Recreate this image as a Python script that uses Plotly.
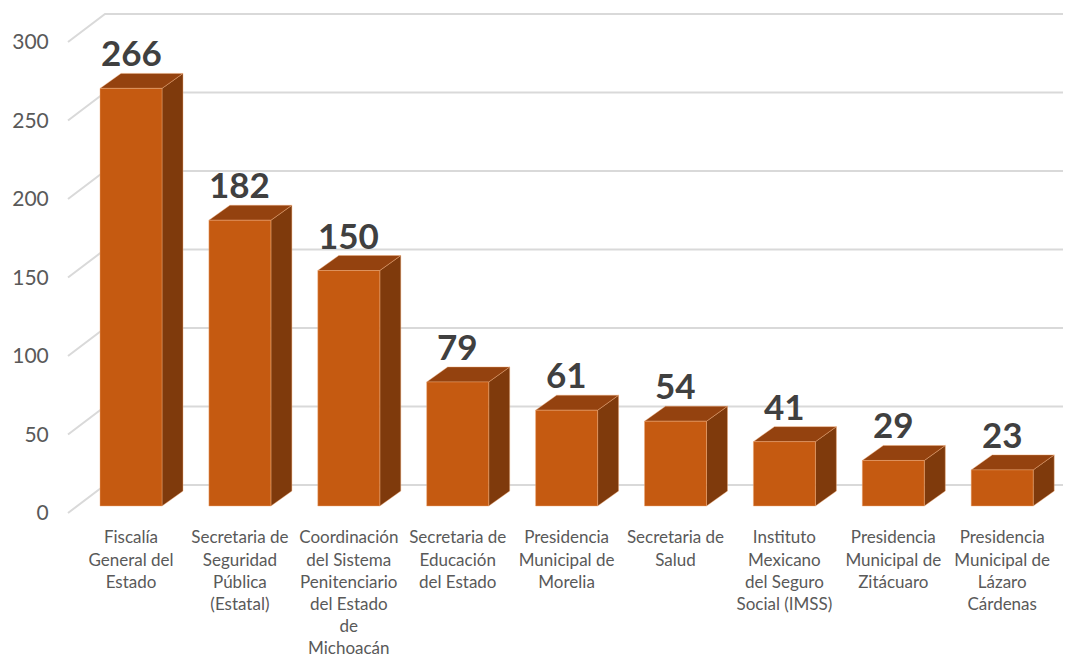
import plotly.graph_objects as go

categories = [
    "Fiscalía<br>General del<br>Estado",
    "Secretaria de<br>Seguridad<br>Pública<br>(Estatal)",
    "Coordinación<br>del Sistema<br>Penitenciario<br>del Estado<br>de<br>Michoacán",
    "Secretaria de<br>Educación<br>del Estado",
    "Presidencia<br>Municipal de<br>Morelia",
    "Secretaria de<br>Salud",
    "Instituto<br>Mexicano<br>del Seguro<br>Social (IMSS)",
    "Presidencia<br>Municipal de<br>Zitácuaro",
    "Presidencia<br>Municipal de<br>Lázaro<br>Cárdenas",
]
values = [266, 182, 150, 79, 61, 54, 41, 29, 23]
y_ticks = [0, 50, 100, 150, 200, 250, 300]

# geometry of the pseudo-3D look (data units)
PX_X = 108.9   # px per category
PX_Y = 1.57    # px per value unit
half_w = 31 / PX_X
base = 7 / PX_Y          # bars sit slightly behind the front plane
bdx, bdy = 21 / PX_X, 15 / PX_Y   # bar depth
gx0, gx1 = (68 - 131) / PX_X, (105 - 131) / PX_X   # wall diagonal
gdy = 28 / PX_Y
x_min, x_max = (58 - 131) / PX_X, (1071 - 131) / PX_X
y_min, y_max = (513 - 516) / PX_Y, (513 - 8) / PX_Y

FRONT = "#C55A11"
SIDE = "#7F3A0C"
TOP = "#94420F"
EDGE = "rgba(240,170,120,0.55)"

fig = go.Figure()

# gridlines (diagonal on side + horizontal on back wall)
gx, gy = [], []
for t in y_ticks:
    gx += [gx0, gx1, x_max, None]
    gy += [t, t + gdy, t + gdy, None]
fig.add_trace(go.Scatter(x=gx, y=gy, mode="lines",
                         line=dict(color="#D9D9D9", width=2),
                         hoverinfo="skip", showlegend=False))

fx, fy, sx, sy, tx, ty = [], [], [], [], [], []
for i, v in enumerate(values):
    x0, x1 = i - half_w, i + half_w
    y0, y1 = base, base + v
    fx += [x0, x1, x1, x0, x0, None]
    fy += [y0, y0, y1, y1, y0, None]
    sx += [x1, x1 + bdx, x1 + bdx, x1, x1, None]
    sy += [y0, y0 + bdy, y1 + bdy, y1, y0, None]
    tx += [x0, x1, x1 + bdx, x0 + bdx, x0, None]
    ty += [y1, y1, y1 + bdy, y1 + bdy, y1, None]

for xs, ys, col in [(sx, sy, SIDE), (tx, ty, TOP), (fx, fy, FRONT)]:
    fig.add_trace(go.Scatter(x=xs, y=ys, mode="lines", fill="toself",
                             fillcolor=col, line=dict(color=EDGE, width=0.8),
                             hoverinfo="skip", showlegend=False))

for i, v in enumerate(values):
    fig.add_annotation(x=i, y=base + v + bdy, text=f"<b>{v}</b>",
                       showarrow=False, yanchor="bottom", yshift=-2,
                       font=dict(family="Lato", size=35, color="#404040"))

fig.update_layout(
    width=1063, height=650,
    margin=dict(l=50, r=0, t=0, b=142),
    paper_bgcolor="white", plot_bgcolor="white",
    font=dict(family="Lato", color="#595959"),
    xaxis=dict(range=[x_min, x_max], tickvals=list(range(len(categories))),
               ticktext=categories, showgrid=False, zeroline=False,
               showline=False, ticks="outside", ticklen=6,
               tickcolor="rgba(0,0,0,0)", tickfont=dict(size=17, color="#595959")),
    yaxis=dict(range=[y_min, y_max], tickvals=y_ticks, showgrid=False,
               zeroline=False, showline=False, ticks="outside", ticklen=4,
               tickcolor="rgba(0,0,0,0)", tickfont=dict(size=21, color="#595959")),
)

fig.write_html("out.html")
